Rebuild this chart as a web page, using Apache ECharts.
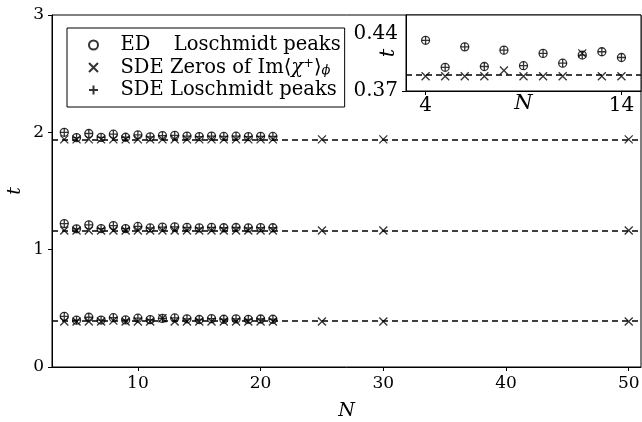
<!DOCTYPE html>
<html>
<head>
<meta charset="utf-8">
<script src="https://cdn.jsdelivr.net/npm/echarts@6/dist/echarts.min.js"></script>
<style>
  html, body { margin: 0; padding: 0; background: #fff; }
  #chart { width: 642px; height: 422px; }
</style>
</head>
<body>
<div id="chart"></div>
<script>
// system sizes N
var nMain = [4, 5, 6, 7, 8, 9, 10, 11, 12, 13, 14, 15, 16, 17, 18, 19, 20, 21];
var nExtra = [25, 30, 50];

// ED Loschmidt peaks, one array per critical time
var edPeak1 = [0.432, 0.399, 0.424, 0.400, 0.420, 0.401, 0.416, 0.404, 0.414, 0.418, 0.411,
               0.405, 0.412, 0.407, 0.410, 0.406, 0.409, 0.407];
var edPeak2 = [1.222, 1.178, 1.212, 1.180, 1.205, 1.180, 1.198, 1.185, 1.192, 1.195, 1.190,
               1.186, 1.190, 1.187, 1.189, 1.186, 1.188, 1.187];
var edPeak3 = [2.000, 1.955, 1.990, 1.957, 1.984, 1.958, 1.978, 1.962, 1.972, 1.974, 1.968,
               1.964, 1.968, 1.965, 1.967, 1.964, 1.966, 1.965];

// SDE zeros of Im<chi+>
var sdeZero1 = [0.388, 0.388, 0.388, 0.388, 0.395, 0.388, 0.388, 0.388, 0.416, 0.388, 0.388,
                0.388, 0.388, 0.388, 0.388, 0.388, 0.388, 0.388];
var sdeZero2 = [1.164, 1.164, 1.164, 1.164, 1.164, 1.164, 1.164, 1.164, 1.164, 1.164, 1.164,
                1.164, 1.164, 1.164, 1.164, 1.164, 1.164, 1.164];
var sdeZero3 = [1.940, 1.940, 1.940, 1.940, 1.940, 1.940, 1.940, 1.940, 1.940, 1.940, 1.940,
                1.940, 1.940, 1.940, 1.940, 1.940, 1.940, 1.940];
var sdeZeroExtra1 = [0.388, 0.388, 0.388];
var sdeZeroExtra2 = [1.164, 1.164, 1.164];
var sdeZeroExtra3 = [1.940, 1.940, 1.940];

// SDE Loschmidt peaks sit on top of the ED ones
var sdePeak1 = edPeak1;
var sdePeak2 = edPeak2;
var sdePeak3 = edPeak3;

// analytic critical times (dashed lines)
var levels = [0.388, 1.164, 1.940];

var xTicks = [10, 20, 30, 40, 50];
var insetN = [4, 5, 6, 7, 8, 9, 10, 11, 12, 13, 14];
var insetXTicks = [4, 14];
var insetYTicks = [0.37, 0.44];

function pairs(xs, ys) {
    return xs.map(function (x, i) { return [x, ys[i]]; });
}

var FONT = 'DejaVu Serif';
var crossPath = 'path://M0,0L10,10M10,0L0,10';
var plusPath = 'path://M5,0L5,10M0,5L10,5';
var markStyle = { color: 'transparent', borderColor: '#000', borderWidth: 1.3 };
var dash = { color: '#000', width: 1.5, type: [6, 4] };

var chart = echarts.init(document.getElementById('chart'));
var option = {
    animation: false,
    backgroundColor: '#fff',
    textStyle: { fontFamily: FONT, color: '#000' },
    legend: {
        orient: 'vertical',
        left: 67,
        top: 28,
        padding: [7, 4, 7, 21],
        itemGap: 2.5,
        itemWidth: 14,
        itemHeight: 9,
        borderColor: '#000',
        borderWidth: 1,
        backgroundColor: '#fff',
        selectedMode: false,
        data: [
            { name: 'ed', icon: 'circle' },
            { name: 'zeros', icon: crossPath },
            { name: 'peaks', icon: plusPath }
        ],
        formatter: function (name) {
            if (name === 'ed') return 'ED\u2002\u2002\u2009Loschmidt peaks';
            if (name === 'zeros') return 'SDE Zeros of Im\u27e8{it|\u03c7}{sup|+}\u27e9{sub|\u03d5}';
            return 'SDE Loschmidt peaks';
        },
        textStyle: {
            fontFamily: FONT,
            fontSize: 19.5,
            lineHeight: 20,
            color: '#000',
            padding: [0, 0, 0, 15],
            rich: {
                it: { fontFamily: FONT, fontSize: 19.5, fontStyle: 'italic', lineHeight: 20 },
                sup: { fontFamily: FONT, fontSize: 13, lineHeight: 12, verticalAlign: 'top' },
                sub: { fontFamily: FONT, fontSize: 13, lineHeight: 12, verticalAlign: 'bottom', fontStyle: 'italic' }
            }
        }
    },
    grid: [
        { left: 52, top: 15, right: 1, bottom: 55, outerBoundsMode: 'none', show: true,
          borderColor: '#000', borderWidth: 1, backgroundColor: '#fff' },
        { left: 406, top: 15, right: 1, height: 76, outerBoundsMode: 'none', show: true,
          borderColor: '#000', borderWidth: 1, backgroundColor: '#fff', z: 5 }
    ],
    xAxis: [
        {
            type: 'value', gridIndex: 0, min: 3, max: 51,
            name: 'N', nameLocation: 'middle', nameGap: 35, nameMoveOverlap: false,
            nameTextStyle: { fontFamily: FONT, fontStyle: 'italic', fontSize: 19, color: '#000' },
            axisLine: { lineStyle: { color: '#000' } },
            axisTick: { inside: false, length: 4, customValues: xTicks, lineStyle: { color: '#000' } },
            axisLabel: { customValues: xTicks, fontFamily: FONT, fontSize: 17, color: '#000', margin: 8 },
            splitLine: { show: false }
        },
        {
            type: 'value', gridIndex: 1, min: 3, max: 15, z: 6,
            name: 'N', nameLocation: 'middle', nameGap: 2, nameMoveOverlap: false,
            nameTextStyle: { fontFamily: FONT, fontStyle: 'italic', fontSize: 21, color: '#000' },
            axisLine: { lineStyle: { color: '#000' } },
            axisTick: { inside: false, length: 4, customValues: insetXTicks, lineStyle: { color: '#000' } },
            axisLabel: { customValues: insetXTicks, fontFamily: FONT, fontSize: 20, color: '#000', margin: 5 },
            splitLine: { show: false }
        }
    ],
    yAxis: [
        {
            type: 'value', gridIndex: 0, min: 0, max: 3, interval: 1,
            name: 't', nameLocation: 'middle', nameGap: 27, nameRotate: 90, nameMoveOverlap: false,
            nameTextStyle: { fontFamily: FONT, fontStyle: 'italic', fontSize: 19, color: '#000' },
            axisLine: { lineStyle: { color: '#000' } },
            axisTick: { inside: false, length: 4, lineStyle: { color: '#000' } },
            axisLabel: { fontFamily: FONT, fontSize: 17, color: '#000', margin: 8 },
            splitLine: { show: false }
        },
        {
            type: 'value', gridIndex: 1, min: 0.37, max: 0.463, z: 6,
            name: 't', nameLocation: 'middle', nameGap: 7, nameRotate: 90, nameMoveOverlap: false,
            nameTextStyle: { fontFamily: FONT, fontStyle: 'italic', fontSize: 21, color: '#000' },
            axisLine: { lineStyle: { color: '#000' } },
            axisTick: { inside: false, length: 4, customValues: [0.37], lineStyle: { color: '#000' } },
            axisLabel: {
                customValues: insetYTicks, fontFamily: FONT, fontSize: 20, color: '#000', margin: 8,
                formatter: function (v) { return v.toFixed(2); }
            },
            splitLine: { show: false }
        }
    ],
    series: [
        {
            name: 'ed', type: 'scatter', xAxisIndex: 0, yAxisIndex: 0,
            symbol: 'circle', symbolSize: 8, itemStyle: markStyle,
            emphasis: { disabled: true },
            data: pairs(nMain, edPeak1).concat(pairs(nMain, edPeak2), pairs(nMain, edPeak3))
        },
        {
            name: 'zeros', type: 'scatter', xAxisIndex: 0, yAxisIndex: 0,
            symbol: crossPath, symbolSize: 8, itemStyle: markStyle,
            emphasis: { disabled: true },
            data: pairs(nMain, sdeZero1).concat(
                pairs(nMain, sdeZero2), pairs(nMain, sdeZero3),
                pairs(nExtra, sdeZeroExtra1), pairs(nExtra, sdeZeroExtra2), pairs(nExtra, sdeZeroExtra3)),
            markLine: {
                silent: true, symbol: 'none', label: { show: false },
                lineStyle: dash,
                data: levels.map(function (v) { return { yAxis: v }; })
            }
        },
        {
            name: 'peaks', type: 'scatter', xAxisIndex: 0, yAxisIndex: 0,
            symbol: plusPath, symbolSize: 8, itemStyle: markStyle,
            emphasis: { disabled: true },
            data: pairs(nMain, sdePeak1).concat(pairs(nMain, sdePeak2), pairs(nMain, sdePeak3))
        },
        // inset
        {
            name: 'ed', type: 'scatter', xAxisIndex: 1, yAxisIndex: 1, z: 10,
            symbol: 'circle', symbolSize: 8, itemStyle: markStyle,
            emphasis: { disabled: true },
            data: pairs(insetN, edPeak1.slice(0, insetN.length))
        },
        {
            name: 'zeros', type: 'scatter', xAxisIndex: 1, yAxisIndex: 1, z: 10,
            symbol: crossPath, symbolSize: 8, itemStyle: markStyle,
            emphasis: { disabled: true },
            data: pairs(insetN, sdeZero1.slice(0, insetN.length)),
            markLine: {
                silent: true, symbol: 'none', label: { show: false },
                lineStyle: dash,
                data: [{ yAxis: levels[0] }]
            }
        },
        {
            name: 'peaks', type: 'scatter', xAxisIndex: 1, yAxisIndex: 1, z: 10,
            symbol: plusPath, symbolSize: 8, itemStyle: markStyle,
            emphasis: { disabled: true },
            data: pairs(insetN, sdePeak1.slice(0, insetN.length))
        }
    ]
};
chart.setOption(option);
window.addEventListener('resize', function () {
    chart.resize();
});
</script>
</body>
</html>
